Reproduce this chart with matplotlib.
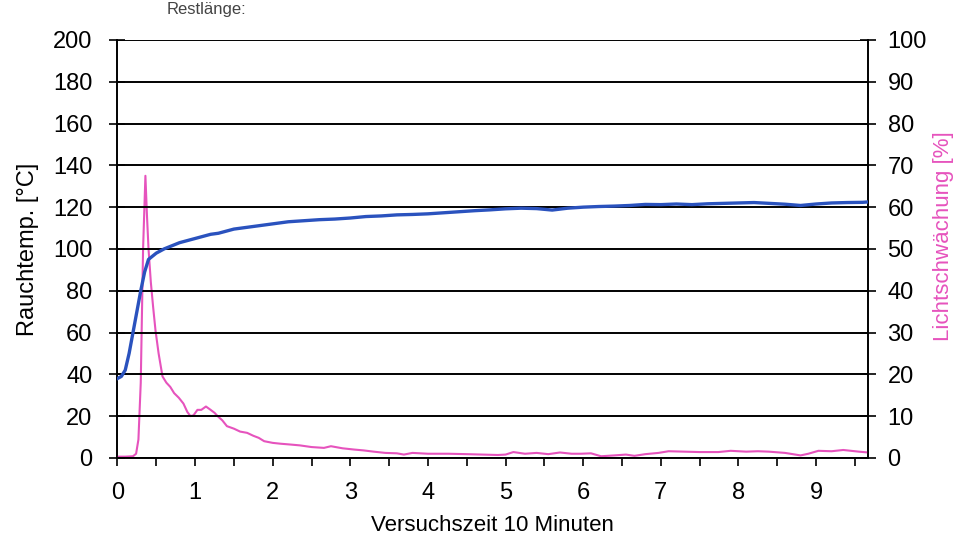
import matplotlib
matplotlib.use("Agg")
import matplotlib.pyplot as plt
from matplotlib.ticker import MultipleLocator, FixedLocator

# ---- data ----
temp_t = [0.0, 0.05, 0.1, 0.15, 0.2, 0.25, 0.3, 0.35, 0.4, 0.5, 0.6, 0.7, 0.8, 0.9,
          1.0, 1.1, 1.2, 1.3, 1.4, 1.5, 1.6, 1.7, 1.8, 1.9, 2.0, 2.2, 2.4, 2.6, 2.8,
          3.0, 3.2, 3.4, 3.6, 3.8, 4.0, 4.2, 4.4, 4.6, 4.8, 5.0, 5.2, 5.4, 5.6, 5.8,
          6.0, 6.2, 6.4, 6.6, 6.8, 7.0, 7.2, 7.4, 7.6, 7.8, 8.0, 8.2, 8.4, 8.6, 8.8,
          9.0, 9.2, 9.4, 9.6, 9.67]
temp_c = [38, 39, 42, 50, 60, 70, 80, 89, 95, 98, 100, 101.5, 103, 104,
          105, 106, 107, 107.5, 108.5, 109.5, 110, 110.5, 111, 111.5, 112, 113, 113.5, 114, 114.3,
          114.8, 115.5, 115.8, 116.3, 116.5, 116.8, 117.3, 117.8, 118.3, 118.7, 119.2, 119.5, 119.3, 118.6, 119.5,
          120, 120.3, 120.5, 120.8, 121.3, 121.2, 121.5, 121.2, 121.6, 121.8, 122, 122.2, 121.8, 121.4, 120.8,
          121.5, 122, 122.2, 122.3, 122.5]

licht_t = [0, 0.1, 0.2, 0.24, 0.27, 0.3, 0.33, 0.36, 0.38, 0.4, 0.43, 0.46, 0.49, 0.53,
           0.58, 0.63, 0.68, 0.73, 0.79, 0.85, 0.9, 0.94, 0.98, 1.03, 1.08, 1.14, 1.2,
           1.25, 1.29, 1.35, 1.41, 1.5, 1.58, 1.67, 1.75, 1.82, 1.89, 2.0, 2.1, 2.23,
           2.35, 2.5, 2.66, 2.75, 2.9, 3.05, 3.17, 3.3, 3.45, 3.6, 3.69, 3.8, 4.0, 4.26,
           4.5, 4.7, 4.9, 5.0, 5.1, 5.25, 5.4, 5.55, 5.7, 5.85, 5.97, 6.1, 6.23, 6.4,
           6.55, 6.66, 6.8, 6.97, 7.1, 7.3, 7.5, 7.74, 7.9, 8.1, 8.25, 8.39, 8.6, 8.8,
           8.9, 9.03, 9.2, 9.35, 9.55, 9.67]
licht_pct = [0.3, 0.3, 0.4, 1, 4.4, 18, 50, 67.5, 58, 50, 42, 36, 30.5, 25,
             19.5, 18, 17, 15.5, 14.4, 13, 11, 10, 10.2, 11.5, 11.5, 12.3, 11.5,
             10.8, 10, 9, 7.6, 7, 6.3, 6, 5.3, 4.8, 4, 3.6, 3.4, 3.2,
             3, 2.6, 2.4, 2.8, 2.3, 2.0, 1.8, 1.5, 1.2, 1.1, 0.8, 1.2, 1.0, 1.0,
             0.9, 0.8, 0.7, 0.8, 1.4, 1.0, 1.2, 0.9, 1.3, 1.0, 1.0, 1.1, 0.4, 0.6,
             0.8, 0.5, 0.9, 1.2, 1.6, 1.5, 1.4, 1.4, 1.7, 1.5, 1.6, 1.5, 1.2, 0.6,
             1.0, 1.7, 1.6, 1.9, 1.5, 1.3]

x_labels = ["0", "1", "2", "3", "4", "5", "6", "7", "8", "9"]
left_ticks = [0, 20, 40, 60, 80, 100, 120, 140, 160, 180, 200]
right_ticks = [0, 10, 20, 30, 40, 50, 60, 70, 80, 90, 100]

BLUE = "#2a52be"
PINK = "#e653bd"

plt.rcParams["font.family"] = ["Liberation Sans", "DejaVu Sans"]

fig = plt.figure(figsize=(9.55, 5.4), dpi=100)
ax = fig.add_axes([0.123, 0.152, 0.786, 0.774])
ax2 = ax.twinx()

ax.set_xlim(0, 9.67)
ax.set_ylim(0, 200)
ax2.set_ylim(0, 100)

for y in left_ticks:
    ax.axhline(y, color="black", lw=1.4, zorder=1)

ax2.plot(licht_t, licht_pct, color=PINK, lw=1.5, zorder=3)
ax.plot(temp_t, temp_c, color=BLUE, lw=2.4, zorder=4)
ax.set_zorder(ax2.get_zorder() + 1)
ax.patch.set_visible(False)

ax.set_yticks(left_ticks)
ax2.set_yticks(right_ticks)
ax.xaxis.set_major_locator(FixedLocator(list(range(len(x_labels)))))
ax.set_xticklabels(x_labels)
ax.xaxis.set_minor_locator(MultipleLocator(0.5))

ax.tick_params(axis="y", direction="inout", length=12, width=1.2, labelsize=17, pad=12)
ax2.tick_params(axis="y", direction="inout", length=12, width=1.2, labelsize=17, pad=8)
ax.tick_params(axis="x", which="both", direction="out", length=6, width=1.2, labelsize=17, pad=11)

for a in (ax, ax2):
    a.spines["top"].set_visible(False)
    for s in ("left", "right", "bottom"):
        a.spines[s].set_linewidth(1.2)

ax.set_ylabel("Rauchtemp. [°C]", fontsize=17, labelpad=10)
ax.set_xlabel("Versuchszeit 10 Minuten", fontsize=16, labelpad=8)
ax2.set_ylabel("Lichtschwächung [%]", fontsize=16, color=PINK, labelpad=2)
ax2.yaxis.set_label_coords(1.087, 0.53)

fig.text(0.175, 0.997, "Restlänge:", fontsize=12, color="#444444", va="top")

fig.savefig("out.png", dpi=100)
